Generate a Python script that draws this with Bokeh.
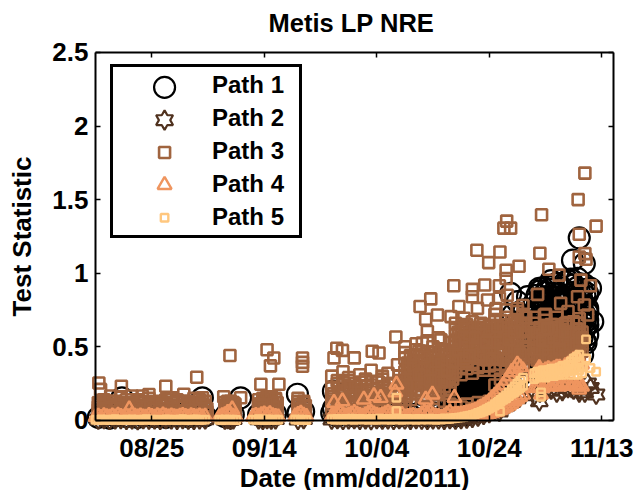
import numpy as np
from bokeh.plotting import figure
from bokeh.models import LinearAxis, FixedTicker, Range1d, Legend, LegendItem, CustomJS, Scatter, ColumnDataSource
from bokeh.embed import file_html
from bokeh.resources import INLINE

FONT = "Liberation Sans"
series_names = ["Path 1", "Path 2", "Path 3", "Path 4", "Path 5"]
colors = ["#000000", "#50321f", "#a0643f", "#ef955f", "#ffc77f"]
tick_days = [10, 30, 50, 70, 90]
tick_labels = ["08/25", "09/14", "10/04", "10/24", "11/13"]
y_ticks = [0, 0.5, 1, 1.5, 2, 2.5]
y_labels = ["0", "0.5", "1", "1.5", "2", "2.5"]

# days since 08/15
half_days = np.concatenate([np.arange(0, 20, .5), np.arange(22, 25.5, .5), np.arange(28, 33, .5),
                            np.arange(35.5, 38, .5), np.arange(42, 76.5, .5), np.arange(78, 87, .5)])
late_half = np.concatenate([np.arange(68, 76.5, .5), np.arange(78, 87, .5)])
grid_day = np.concatenate([np.arange(.5, 20), np.arange(23, 25, .5), np.arange(29, 32.5, .75),
                           np.arange(36, 38), np.arange(42, 77), np.arange(78, 87)])
late_day = np.concatenate([np.arange(55, 77), np.arange(78, 87)])
late_day_b = np.concatenate([np.arange(55.5, 77), np.arange(78.5, 87)])
early_day = np.concatenate([np.arange(.8, 20), np.arange(23.3, 25, .5), np.arange(29.3, 32.5, .75),
                            np.arange(36.3, 38), np.arange(42.3, 56)])
core_days = np.arange(63, 73, .5)
blob_days = np.arange(78, 88, .5)

path5_main = [
 .004,.002,.006,.003,.005,.001,.004,.007,.003,.002,.005,.004,.001,.006,.003,.004,.002,.005,.007,.003,
 .004,.001,.005,.003,.002,.006,.004,.003,.005,.002,.004,.007,.003,.001,.005,.004,.006,.002,.003,.005,
 .004,.002,.006,.003,.005,.004,.002,
 .005,.003,.007,.004,.002,.006,.004,.003,.005,.004,
 .006,.003,.005,.004,.002,
 .008,.004,.010,.006,.003,.009,.005,.011,.004,.007,
 .010,.005,.008,.003,.009,.006,.004,.011,.007,.005,
 .009,.003,.008,.006,.010,.004,.007,.009,.005,.008,
 .004,.010,.006,.008,.005,.011,.007,.004,.009,.006,
 .013,.008,.011,.014,
 .016,.018,.020,.024,.028,.032,.036,.042,.050,.055,.062,.070,.080,.090,.100,.115,.125,.140,.150,.165,.180,.190,.205,.220,.235,
 .28,.29,.295,.30,.29,.30,.31,.30,.31,.32,.31,.33,.33,.34,.35,.36,.34,.32]
path5_upper = [
 .05,.055,.065,.075,.085,.095,.11,.125,.14,.155,.17,.19,.21,.23,.25,.27,.29,
 .32,.33,.33,.34,.33,.34,.35,.35,.34,.36,.37,.37,.38,.40,.42,.43,.40,.36]
path5_extra_d = [71.9, 53.5, 53.5, 79.2, 79.2, 89, 88, 87.2, 86, 87.2, 85.7, 84.5]
path5_extra_v = [.06, .153, .063, .19, .16, .33, .356, .55, .446, .42, .31, .31]

path4_main = [
 .022,.026,.018,.030,.023,.020,.028,.022,.034,.025,.019,.027,.023,.038,.026,.021,.028,.022,.019,.031,
 .025,.020,.029,.023,.035,.026,.021,.028,.023,.019,.027,.032,.024,.020,.029,.025,.022,.028,.021,.026,
 .022,.030,.036,.052,.039,.027,.022,
 .024,.032,.027,.037,.042,.033,.044,.030,.025,.022,
 .028,.038,.047,.034,.025,
 .027,.034,.042,.050,.037,.028,.033,.042,.052,.040,
 .032,.027,.036,.047,.054,.042,.033,.028,.035,.044,
 .052,.042,.034,.030,.026,.038,.022,.024,.028,.032,
 .023,.026,.042,.052,.047,.054,.032,.028,.024,.022,
 .026,.042,.054,.037,
 .04,.04,.042,.045,.05,.055,.06,.068,.078,.09,.10,.115,.13,.15,.17,.19,.21,.24,.27,.30,.33,.35,.38,.36,.34,
 .30,.33,.34,.33,.34,.35,.34,.35,.36,.36,.35,.37,.38,.39,.41,.42,.40,.38]
path4_lower = [
 .03,.032,.036,.04,.045,.05,.056,.062,.07,.08,.09,.10,.115,.13,.145,.16,.175,
 .22,.225,.23,.22,.235,.24,.23,.235,.24,.23,.245,.24,.25,.235,.24,.23,.24,.23]
path4_extra_d = [53.5, 53.3, 49.5, 50.7, 47.7, 43.9, 42.4, 59.9, 58.7, 63.8, 78.9, 86, 79.2, 24.3, 6]
path4_extra_v = [.244, .19, .165, .153, .142, .13, .12, .176, .142, .153, .356, .21, .176, .075, .075]

path3_r1 = [
 .05,.07,.04,.06,.08,.05,.07,.04,.06,.05,.08,.06,.04,.07,.05,.06,.08,.04,.07,.05,
 .05,.07,.05,.06, .06,.05,.08,.06,.05, .06,.07,
 .08,.1,.07,.11,.09,.08,.12,.09,.07,.1,.11,.08,.12,.09,
 .14,.11,.16,.12,.15,.1,.13,.11, .1,.09,.11,.08,.12,.1,.13, .24,.28,.3,.33,.37,.42,
 .43,.44,.42,.45,.43,.46,.44,.47,.45]
path3_r2 = [
 .09,.11,.1,.08,.12,.09,.11,.13,.1,.09,.12,.08,.11,.1,.13,.09,.1,.12,.11,.09,
 .08,.1,.09,.12, .11,.13,.1,.12,.14, .11,.13,
 .16,.13,.18,.15,.2,.14,.17,.13,.19,.15,.12,.18,.14,.2,
 .22,.18,.26,.2,.24,.19,.27,.21, .33,.31,.35,.32,.36,.34,.37, .34,.38,.36,.41,.44,.47,
 .48,.47,.49,.46,.5,.48,.51,.49,.47]
path3_r3 = [
 .12,.14,.11,.13,.16,.12,.1,.14,.12,.15,.11,.13,.12,.1,.14,.13,.11,.15,.12,.13,
 .12,.1,.13,.11, .14,.12,.16,.13,.15, .13,.12,
 .22,.25,.2,.27,.23,.21,.26,.24,.22,.28,.2,.25,.27,.22,
 .3,.26,.33,.28,.31,.27,.34,.3, .39,.36,.41,.38,.42,.37,.43, .43,.46,.41,.49,.45,.5,
 .52,.53,.5,.55,.52,.54,.51,.56,.53]
path3_r4 = [
 .07,.1,.13,.08,.11,.14,.09,.12,.07,.13,.09,.11,.14,.08,.12,.1,.13,.07,.14,.1,
 .1,.13,.07,.1, .09,.15,.11,.16,.09, .15,.09,
 .3,.27,.33,.29,.25,.31,.28,.34,.26,.3,.32,.24,.3,.27,
 .36,.32,.39,.35,.37,.33,.4,.36, .45,.42,.47,.44,.48,.43,.46, .52,.49,.55,.47,.53,.57,
 .57,.55,.58,.56,.6,.57,.59,.55,.58]
path3_r5 = [.42,.38,.44,.36,.41,.39,.45,.37,.43, .5,.47,.52,.49,.53,.48,.51, .58,.55,.6,.53,.57,.61, .62,.5,.64,.52,.63,.49,.6,.54,.62]
path3_r6 = [.24,.3,.27,.32,.25,.34,.29,.31,.26, .54,.51,.57,.53,.59,.55,.52, .62,.59,.65,.57,.63,.66, .66,.46,.68,.47,.65,.45,.64,.5,.66]
path3_r7 = [.46,.34,.48,.4,.35,.43,.37,.47,.33, .58,.56,.6,.57,.62,.59,.61, .67,.63,.7,.61,.68,.72, .45,.6,.42,.59,.44,.62,.48,.6,.43]
path3_r8 = [.18,.22,.2,.25,.17,.28,.19,.23,.21, .62,.6,.65,.61,.63,.58,.64, .72,.68,.75,.65,.74,.78, .55,.43,.56,.44,.58,.47,.55,.46,.5]
path3_r9 = [.5,.44,.52,.47,.54,.5,.56,.48,.53, .41,.44,.4,.46,.43,.47,.45, .38,.45,.42,.39,.47,.44, .38,.4,.39,.41,.4,.42,.41,.43,.44]
path3_r10 = [.33,.28,.36,.31,.38,.3,.35,.29,.37, .66,.63,.55,.67,.56,.65,.57, .56,.52,.59,.44,.5,.54, .7,.63,.72,.65,.7,.64,.74,.67,.69]
path3_r11 = [.39,.31,.43,.26,.36,.46,.33,.41,.28, .52,.48,.55,.43,.6,.5,.57, .6,.54,.63,.5,.66,.58, .53,.41,.57,.46,.61,.51,.56,.42,.6]
path3_r12 = [.29,.41,.21,.35,.44,.24,.38,.27,.47, .44,.57,.47,.63,.51,.41,.6, .47,.63,.51,.68,.41,.6, .44,.58,.49,.63,.42,.55,.45,.62,.52]
path3_r13 = [.35,.25,.47,.3,.2,.4,.26,.44,.32, .6,.42,.59,.5,.45,.62,.48, .53,.41,.57,.47,.6,.49, .6,.48,.62,.4,.54,.44,.58,.39,.47]
path3_r14 = [.22,.37,.31,.43,.27,.19,.48,.34,.4, .48,.64,.44,.56,.66,.53,.42, .64,.49,.55,.6,.45,.7, .41,.54,.44,.56,.48,.6,.43,.52,.56]
path3_e1 = [
 .03,.06,.09,.05,.07,.1,.04,.08,.06,.09,.03,.07,.05,.1,.06,.04,.09,.07,.03,.08,
 .06,.09,.04,.07, .08,.05,.1,.07,.04, .08,.05,
 .11,.15,.09,.19,.13,.1,.2,.16,.12,.23,.09,.17,.13,.21]
path3_e2 = [
 .07,.03,.11,.08,.05,.09,.12,.06,.1,.04,.11,.08,.06,.12,.03,.09,.05,.11,.08,.06,
 .1,.04,.08,.11, .04,.1,.07,.11,.06, .04,.1,
 .18,.08,.24,.12,.17,.26,.11,.21,.15,.18,.25,.13,.2,.16]
path3_e3 = [
 .11,.08,.05,.1,.03,.07,.1,.09,.04,.11,.07,.1,.03,.05,.1,.12,.07,.03,.11,.05,
 .03,.11,.1,.04, .11,.08,.05,.09,.12, .1,.06,
 .13,.22,.14,.23,.11,.19,.23,.12,.26,.14,.17,.21,.1,.24]
path3_extra_d = [.6,.9,4.6,9.5,12.5,18,23.9,30.5,31.7,31.1,36.8,36.8,36.8,29.4,32.6,22.8,25.8,19,15.7,6.5,8.3,13.6,2.7,
 87,85.8,89,86,79.3,73.1,72.6,73.8,67.8,71.9,69.9,79,87,86,87.2,73,75.3,80.6,82.4,73,63.7,69.2,71.8,88,86.3,
 67,67,59.6,57.7,69.7,63.2,60.8,58.7,78.6,82.7,79.8,83.6,53.4,42.9,43.9,49.2,50.4,46,58.1,61.4,63.8,53.7,42.4,
 59,64.6,67.9,65.5,85.7,86.9,86,87.5,80.4,73.2,71.8,75,71.2]
path3_extra_v = [.254,.21,.232,.175,.232,.293,.44,.48,.423,.37,.423,.394,.367,.245,.245,.16,.153,.153,.177,.165,.165,.153,.165,
 1.68,1.50,1.32,1.264,1.397,1.354,1.306,1.306,1.156,1.144,1.072,1.135,1.133,1.11,1.095,1.02,1.047,1.027,.987,.964,.915,.92,.915,.915,.953,
 .89,.84,.825,.773,.818,.705,.716,.687,.856,.795,.716,.66,.566,.49,.475,.469,.457,.424,.525,.547,.525,.378,.424,
 .604,.773,.761,.694,.84,.784,.66,.716,.626,.85,.83,.76,.76]

path2_main = [
 .006,.009,.004,.008,.01,.005,.007,.003,.009,.006,.008,.004,.01,.007,.005,.009,.006,.004,.008,.007,
 .006,.009,.004,.008, .007,.004,.01,.006,.008, .005,.009,
 .006,.009,.004,.008,.01, .005,.007,.003,.009,.006, .008,.004,.01,.007,.005,
 .009,.006,.004,.008,.007, .005,.009,.006,.01,.012, .018,.026,.038,.05,.066, .08,.10,.125,.15,.19,
 .17,.19,.2,.21,.19,.2,.22,.21,.19]
path2_extra_d = [71.8, 78.9, 86, 88, 89, 87.5, 87]
path2_extra_v = [.06, .13, .21, .22, .176, .25, .19]

path1_main = [
 .02,.035,.015,.03,.05,.025,.04,.02,.03,.045,.025,.035,.02,.05,.03,.04,.025,.035,.045,.03,
 .025,.05,.03,.04, .04,.03,.05,.035,.045, .05,.06,
 .05,.03,.06,.04,.03,.05,.035,.06,.04,.03,.055,.04,.03,.05,.035,.04,.06,.03,.05,.04,.035,.05,.03,.06,
 .04,.06,.08,.1,.12,.15,.17,.2,.24,.28,.32,
 .35,.38,.4,.42,.44,.46,.5,.48,.52]
path1_core_a = [.15,.2,.13,.24,.18,.27,.14,.22,.19,.29,.16,.25,.21,.13,.28,.18,.24,.3,.2,.26]
path1_core_b = [.22,.14,.28,.17,.25,.13,.2,.3,.16,.23,.27,.15,.31,.2,.24,.29,.16,.22,.33,.27]
path1_core_c = [.3,.26,.19,.32,.15,.29,.24,.17,.33,.2,.14,.3,.18,.34,.22,.26,.32,.28,.25,.36]
path1_core_d = [.3,.34,.25,.36,.28,.33,.2,.35,.26,.31,.34,.22,.36,.28,.17,.33,.27,.36,.3,.22]
path1_core_e = [.2,.32,.35,.22,.33,.18,.34,.27,.23,.36,.2,.35,.27,.32,.36,.14,.3,.34,.38,.33]
path1_blob_1 = [.62,.74,.58,.83,.66,.91,.6,.78,.69,.86,.55,.72,.95,.64,.8,.57,.88,.7,.62,.76]
path1_blob_2 = [.8,.56,.7,.64,.87,.59,.75,.68,.93,.62,.79,.66,.58,.84,.71,.9,.6,.82,.54,.68]
path1_blob_3 = [.68,.85,.62,.76,.55,.72,.89,.57,.66,.8,.71,.94,.63,.77,.6,.69,.83,.56,.92,.65]
path1_blob_4 = [.74,.6,.88,.57,.79,.65,.61,.84,.73,.56,.9,.68,.82,.59,.92,.74,.55,.78,.67,.86]
path1_blob_5 = [.57,.78,.66,.9,.61,.81,.7,.63,.86,.75,.6,.83,.7,.96,.56,.81,.65,.89,.72,.58]
path1_blob_6 = [.71,.64,.81,.7,.84,.58,.95,.74,.6,.69,.82,.57,.76,.66,.87,.62,.77,.67,.85,.73]
path1_extra_d = [86,84.8,86.9,78.9,85.7,88,87.5,87.2,86.6,79.2,75.9,75,73.8,87.5,88.4,25.8,19,4.7,35.9,42.3,42.3,76.8,77.2,76.5,75.5,74.8,74.2,73.5,77.5,77,76.2]
path1_extra_v = [1.24,1.088,1.065,.897,.964,.897,.65,.525,.446,.345,.38,.806,.863,.74,.67,.153,.153,.153,.177,.198,.08,.84,.7,.6,.55,.66,.72,.58,.46,.5,.75]

legend_day = 12.28
legend_vals = [2.263, 2.04, 1.82, 1.60, 1.377]
sizes = [21, 17, 11, 14, 7.5]

W, H, TOP = 637, 490, 40
X_PER = 5.625
Y_PER = 147.8
X0_PX, Y0_PX = 95, 419.5
X0, X1 = (0 - X0_PX) / X_PER, (W - X0_PX) / X_PER
Y1, Y0 = (Y0_PX - TOP) / Y_PER, (Y0_PX - H) / Y_PER
X_END = (613 - X0_PX) / X_PER
Y_END = 2.5

p = figure(width=W, height=H, output_backend="svg", toolbar_location=None,
           x_range=Range1d(X0, X1), y_range=Range1d(Y0, Y1),
           x_axis_location=None, y_axis_location=None,
           min_border_left=0, min_border_right=0, min_border_top=TOP, min_border_bottom=0,
           background_fill_color="white", border_fill_color="white", outline_line_color=None)
p.grid.visible = False


def make_axis(loc, ticks, labels, bounds, fixed, show=True, label=None, lab_size="26px", standoff=4, tick_standoff=8):
    ax = LinearAxis(ticker=FixedTicker(ticks=ticks), fixed_location=fixed, bounds=bounds,
                    major_tick_in=5, major_tick_out=0, minor_tick_line_color=None,
                    axis_line_width=2, major_tick_line_width=1.5,
                    axis_line_color="black", major_tick_line_color="black")
    if show:
        ax.major_label_overrides = {t: l for t, l in zip(ticks, labels)}
        ax.major_label_text_font = FONT
        ax.major_label_text_font_size = "26px"
        ax.major_label_text_font_style = "bold"
        ax.major_label_text_color = "black"
        ax.major_label_standoff = tick_standoff
    else:
        ax.major_label_text_font_size = "0px"
        ax.major_label_text_color = None
    if label:
        ax.axis_label = label
        ax.axis_label_text_font = FONT
        ax.axis_label_text_font_style = "bold"
        ax.axis_label_text_font_size = lab_size
        ax.axis_label_text_color = "black"
        ax.axis_label_standoff = standoff
    p.add_layout(ax, loc)
    return ax


make_axis("left", y_ticks, y_labels, (0, Y_END), 0, True, "Test Statistic", "26px", standoff=12, tick_standoff=7)
make_axis("below", tick_days, tick_labels, (0, X_END), 0, True, "Date (mm/dd/2011)", "26px", standoff=-4, tick_standoff=13)
make_axis("right", y_ticks, y_labels, (0, Y_END), X_END, False)
make_axis("above", tick_days, tick_labels, (0, X_END), Y_END, False)

p.title.text = "Metis LP NRE"
p.title.text_font = FONT
p.title.text_font_size = "25.5px"
p.title.text_font_style = "bold"
p.title.text_color = "black"
p.title.align = "left"
p.title.offset = 268
p.title.standoff = 12

hexagram = CustomJS(code="""
const {ctx, r, i, visuals} = cb_data
const R = r * 1.15, q = R / Math.sqrt(3)
for (let k = 0; k < 12; k++) {
  const a = -Math.PI / 2 + k * Math.PI / 6
  const m = k % 2 == 0 ? R : q
  const x = m * Math.cos(a), y = m * Math.sin(a)
  if (k == 0) ctx.moveTo(x, y); else ctx.lineTo(x, y)
}
ctx.closePath()
try { visuals.fill.apply(ctx, i); visuals.line.apply(ctx, i) } catch (e) { ctx.stroke() }
""")
markers = ["circle", "@hexagram", "square", "triangle", "square"]
LW = [2.2, 2.2, 2.6, 2.4, 2.4]


def draw(idx, xs, ys):
    src = ColumnDataSource(dict(x=np.asarray(xs, dtype=float), y=np.asarray(ys, dtype=float)))
    g = Scatter(x="x", y="y", size=sizes[idx], marker=markers[idx], fill_color=None,
                line_color=colors[idx], line_width=LW[idx], defs={"@hexagram": hexagram} if idx == 1 else {})
    return p.add_glyph(src, g)


for xs, ys in [(grid_day, path1_main), (core_days, path1_core_a), (core_days, path1_core_b), (core_days, path1_core_c),
               (core_days, path1_core_d), (core_days, path1_core_e),
               (blob_days, path1_blob_1), (blob_days, path1_blob_2), (blob_days, path1_blob_3),
               (blob_days, path1_blob_4), (blob_days, path1_blob_5), (blob_days, path1_blob_6),
               (path1_extra_d, path1_extra_v)]:
    draw(0, xs, ys)
for xs, ys in [(grid_day, path2_main), (path2_extra_d, path2_extra_v)]:
    draw(1, xs, ys)
for xs, ys in [(grid_day, path3_r1), (grid_day, path3_r2), (grid_day, path3_r3), (grid_day, path3_r4),
               (late_day, path3_r5), (late_day, path3_r6), (late_day, path3_r7), (late_day, path3_r8),
               (late_day, path3_r9), (late_day, path3_r10),
               (late_day_b, path3_r11), (late_day_b, path3_r12), (late_day_b, path3_r13), (late_day_b, path3_r14),
               (early_day, path3_e1), (early_day, path3_e2), (early_day, path3_e3),
               (path3_extra_d, path3_extra_v)]:
    draw(2, xs, ys)
for xs, ys in [(half_days, path4_main), (late_half, path4_lower), (path4_extra_d, path4_extra_v)]:
    draw(3, xs, ys)
for xs, ys in [(half_days, path5_main), (late_half, path5_upper), (path5_extra_d, path5_extra_v)]:
    draw(4, xs, ys)

items = []
for i, name in enumerate(series_names):
    dummy = p.scatter([], [], size=1, fill_alpha=0, line_alpha=0)
    items.append(LegendItem(label=name, renderers=[dummy]))
legend = Legend(items=items, location=(110, H - 238), orientation="vertical",
                border_line_color="black", border_line_alpha=1, border_line_width=3,
                background_fill_alpha=0,
                label_text_font=FONT, label_text_font_size="24px", label_text_font_style="bold", label_text_color="black",
                glyph_width=80, glyph_height=20, label_height=20, label_width=83, label_standoff=15, spacing=5, padding=4, margin=0)
p.add_layout(legend)

for i, v in enumerate(legend_vals):
    draw(i, [legend_day], [v])

open("out.html", "w").write(file_html(p, INLINE))
